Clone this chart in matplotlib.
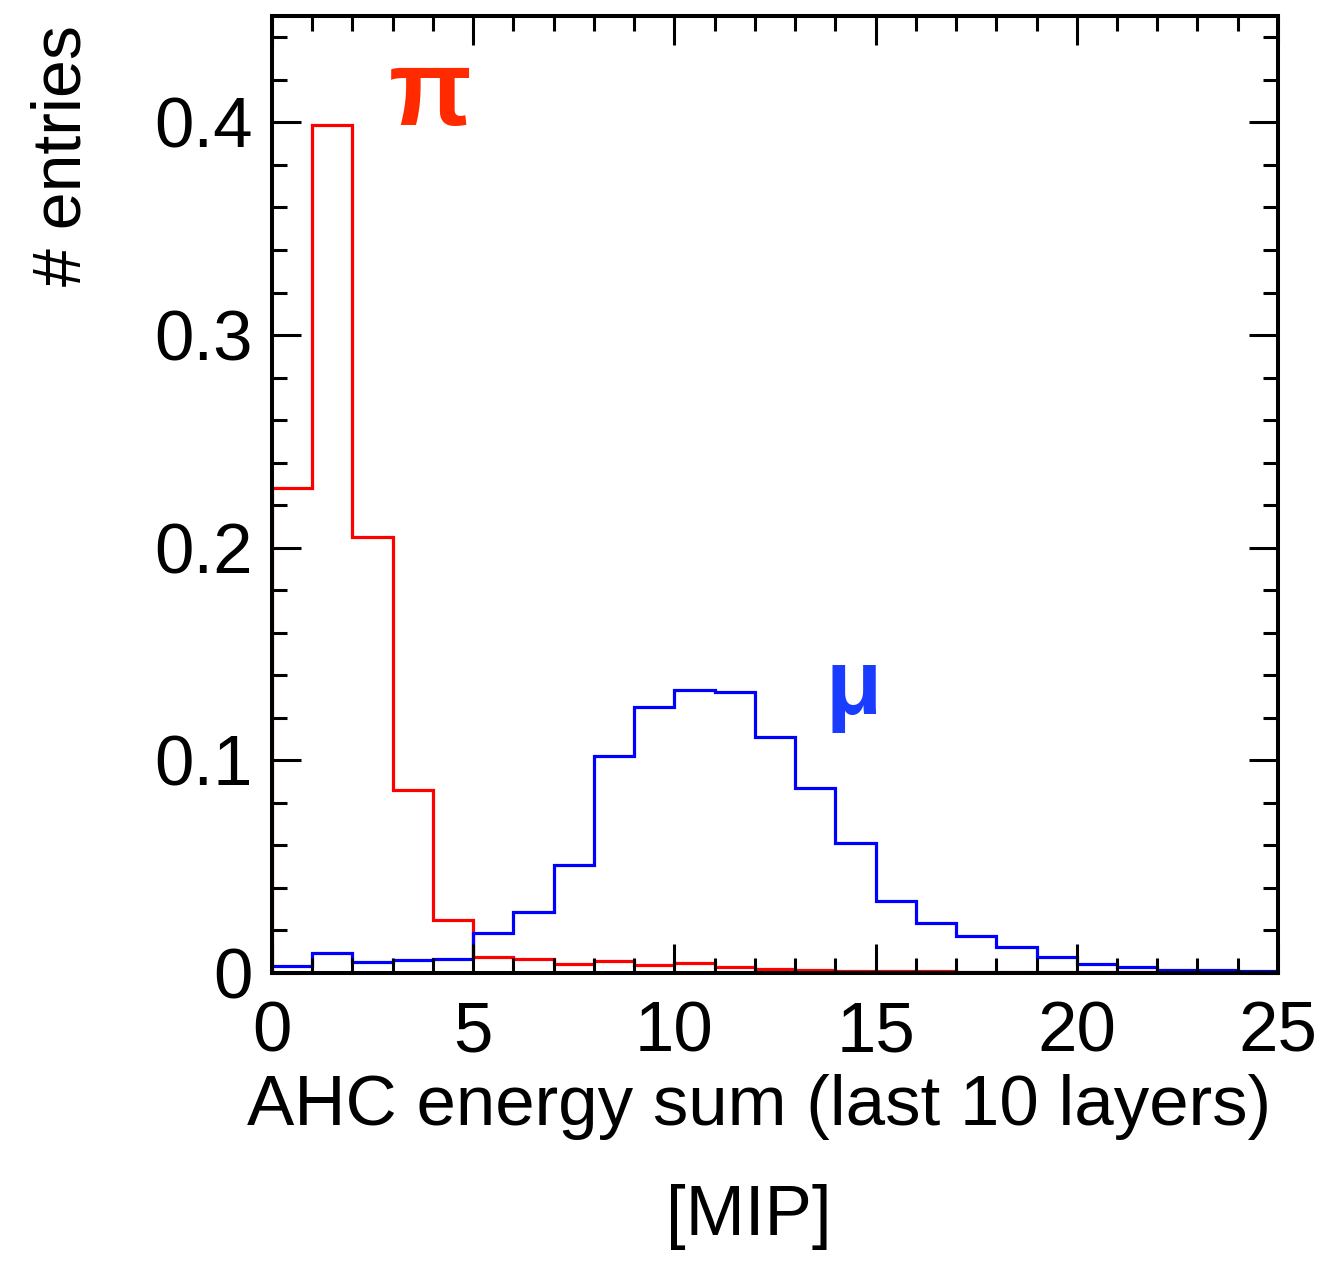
import matplotlib
matplotlib.use("Agg")
import matplotlib.pyplot as plt
from matplotlib.ticker import MultipleLocator
import numpy as np

plt.rcParams['font.family'] = ['Liberation Sans', 'DejaVu Sans']

edges = np.arange(0, 26, 1)
# pion histogram (normalised entries per 1 MIP bin)
pion = [0.228, 0.399, 0.205, 0.086, 0.025, 0.0075, 0.0066, 0.0042, 0.0056, 0.0040,
        0.0047, 0.0030, 0.0020, 0.0012, 0.0010, 0.0009, 0.0008, 0.0007, 0.0007, 0.0006,
        0.0006, 0.0005, 0.0005, 0.0005, 0.0005]
# muon histogram
muon = [0.0033, 0.0094, 0.0052, 0.0060, 0.0066, 0.0188, 0.0287, 0.051, 0.102, 0.125,
        0.133, 0.132, 0.111, 0.087, 0.061, 0.034, 0.0235, 0.0174, 0.0122, 0.0075,
        0.0042, 0.0030, 0.0014, 0.0012, 0.0010]

fig = plt.figure(figsize=(13.25, 12.64), dpi=100)
ax = fig.add_axes([0.2053, 0.2302, 0.7592, 0.7571])

ax.stairs(pion, edges, color='#ff0000', linewidth=2.3, baseline=0)
ax.stairs(muon, edges, color='#0000ff', linewidth=2.3, baseline=None)

ax.set_xlim(0, 25)
ax.set_ylim(0, 0.45)
ax.xaxis.set_major_locator(MultipleLocator(5))
ax.xaxis.set_minor_locator(MultipleLocator(1))
ax.yaxis.set_major_locator(MultipleLocator(0.1))
ax.yaxis.set_minor_locator(MultipleLocator(0.02))
ax.set_yticks([0, 0.1, 0.2, 0.3, 0.4])
ax.set_yticklabels(['0', '0.1', '0.2', '0.3', '0.4'])

ax.tick_params(which='both', direction='in', top=True, right=True, width=2.2, labelsize=51)
ax.tick_params(which='major', length=21)
ax.tick_params(which='minor', length=10.5)
ax.tick_params(axis='x', pad=20)
ax.tick_params(axis='y', pad=14)
for s in ax.spines.values():
    s.set_linewidth(2.9)

ax.text(3.93, 0.412, 'π', color='#ff2a00', fontsize=78, fontweight='bold', ha='center', va='center')
ax.text(14.45, 0.133, 'μ', color='#1a3cff', fontsize=66, fontweight='bold', ha='center', va='center')

fig.text(0.573, 0.124, 'AHC energy sum (last 10 layers)', fontsize=51, ha='center', va='center')
fig.text(0.565, 0.037, '[MIP]', fontsize=51, ha='center', va='center')
fig.text(0.047, 0.877, '# entries', fontsize=49, rotation=90, ha='center', va='center')

fig.savefig('out.png', dpi=100)
